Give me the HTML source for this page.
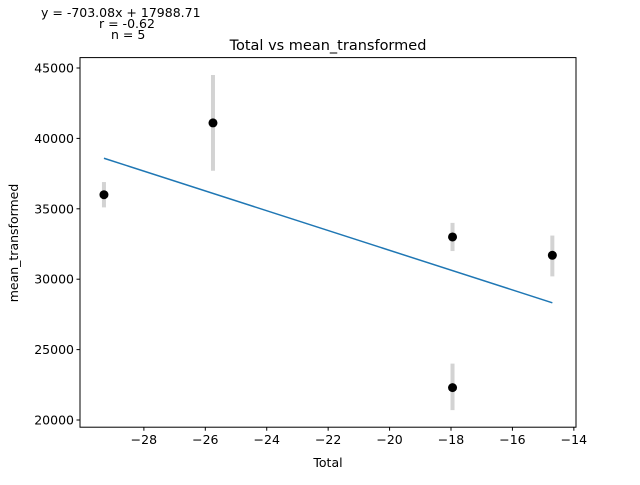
<!DOCTYPE html>
<html><head><meta charset="utf-8"><style>
body{margin:0;background:#fff}
svg text{font-family:"DejaVu Sans","Liberation Sans",sans-serif;fill:#000}
</style></head><body>
<svg id="chart" width="640" height="480" xmlns="http://www.w3.org/2000/svg">
<rect width="640" height="480" fill="#fff"/>
<text x="41" y="17" font-size="12.5">y = -703.08x + 17988.71</text>
<text x="99" y="28" font-size="12.5">r = -0.62</text>
<text x="111" y="39" font-size="12.5">n = 5</text>
<text x="328" y="50" font-size="14.5" text-anchor="middle">Total vs mean_transformed</text>
<g id="plot"></g>
<rect x="80" y="57.6" width="496" height="369.6" fill="none" stroke="#000" stroke-width="1"/>
<text x="328" y="467" font-size="12.5" text-anchor="middle">Total</text>
<text transform="translate(18,243) rotate(-90)" font-size="12.5" text-anchor="middle">mean_transformed</text>
</svg>
<script>
const xs=[-29.3,-25.75,-17.95,-17.95,-14.7];
const ys=[36000,41100,33000,22300,31700];
const errLo=[35100,37700,32000,20700,30200];
const errHi=[36900,44500,34000,24000,33100];
const xTicks=[-28,-26,-24,-22,-20,-18,-16,-14];
const yTicks=[20000,25000,30000,35000,40000,45000];
const slope=-703.08, intercept=17988.71;
const X0=-30.08,X1=-13.93,Y0=19489,Y1=45739;
const L=80,R=576,T=57.6,B=427.2;
const sx=v=>L+(v-X0)/(X1-X0)*(R-L);
const sy=v=>B-(v-Y0)/(Y1-Y0)*(B-T);
const g=document.getElementById('plot');
const NS='http://www.w3.org/2000/svg';
function mk(t,a){const e=document.createElementNS(NS,t);for(const k in a)e.setAttribute(k,a[k]);g.appendChild(e);return e;}
xTicks.forEach(t=>{
 const l=mk('line',{x1:sx(t),x2:sx(t),y1:B,y2:B+3.5,stroke:'#000'});
 
 
 const tx=mk('text',{x:sx(t),y:B+17,'font-size':'12.5','text-anchor':'middle'});
 tx.textContent='\u2212'+Math.abs(t);
 
 
});
yTicks.forEach(t=>{
 const l=mk('line',{x1:L-3.5,x2:L,y1:sy(t),y2:sy(t),stroke:'#000'});
 
 
 const tx=mk('text',{x:L-6,y:sy(t)+4.5,'font-size':'12.5','text-anchor':'end'});
 tx.textContent=t;
 
 
});
xs.forEach((x,i)=>{
 const e=mk('line',{x1:sx(x),x2:sx(x),y1:sy(errLo[i]),y2:sy(errHi[i]),stroke:'#d3d3d3','stroke-width':4});
 
 
});
const xmin=Math.min(...xs),xmax=Math.max(...xs);
const fl=mk('line',{x1:sx(xmin),y1:sy(slope*xmin+intercept),x2:sx(xmax),y2:sy(slope*xmax+intercept),stroke:'#1f77b4','stroke-width':1.5});


xs.forEach((x,i)=>{
 const c=mk('circle',{cx:sx(x),cy:sy(ys[i]),r:4.5,fill:'#000'});
 
 
});
</script>
</body></html>
